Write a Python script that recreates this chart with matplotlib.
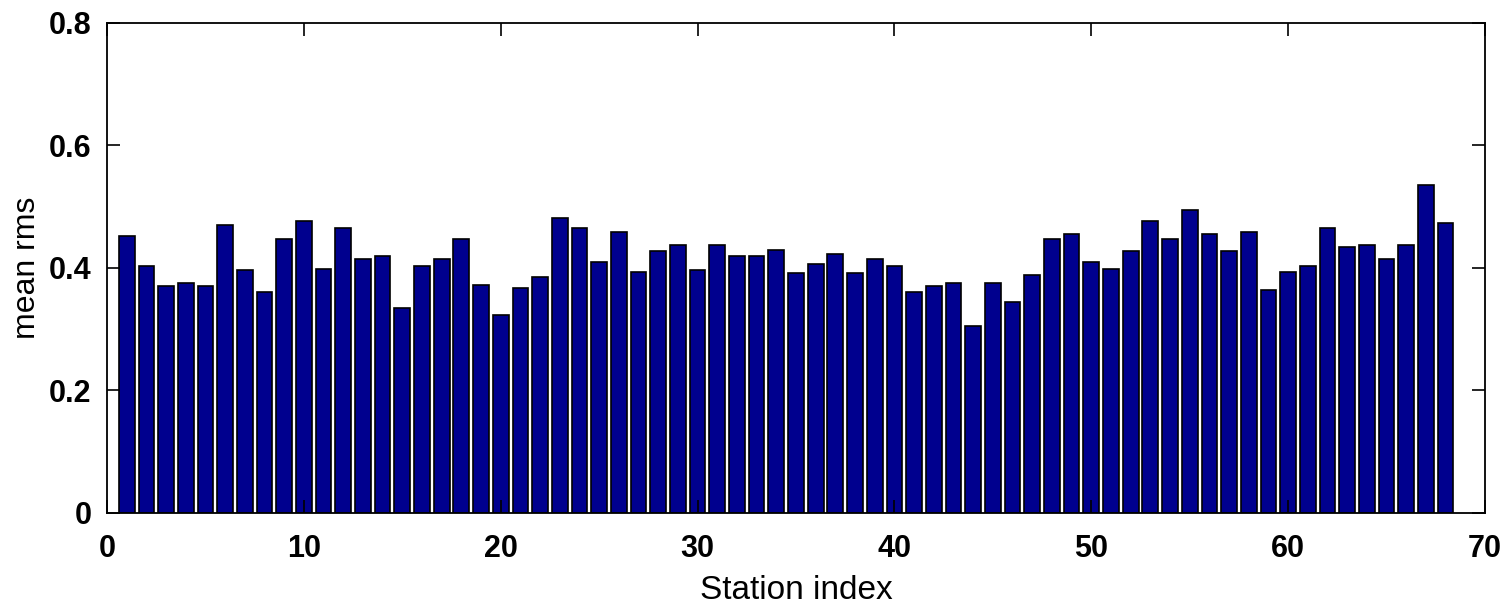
import numpy as np
import matplotlib
matplotlib.use('Agg')
import matplotlib.pyplot as plt

plt.rcParams['font.family'] = ['Liberation Sans', 'DejaVu Sans']

# mean rms per station
station_index = np.arange(1, 69)
mean_rms = [0.452, 0.403, 0.370, 0.376, 0.370, 0.470, 0.397, 0.361, 0.447, 0.476,
            0.399, 0.465, 0.414, 0.420, 0.335, 0.403, 0.414, 0.447, 0.373, 0.323,
            0.368, 0.385, 0.482, 0.465, 0.409, 0.459, 0.394, 0.427, 0.438, 0.397,
            0.438, 0.420, 0.420, 0.429, 0.391, 0.406, 0.423, 0.391, 0.414, 0.403,
            0.361, 0.370, 0.376, 0.306, 0.376, 0.344, 0.388, 0.447, 0.456, 0.409,
            0.399, 0.427, 0.476, 0.447, 0.494, 0.456, 0.427, 0.459, 0.364, 0.394,
            0.403, 0.465, 0.435, 0.438, 0.414, 0.438, 0.536, 0.474]
x_ticks = [0, 10, 20, 30, 40, 50, 60, 70]
y_ticks = [0, 0.2, 0.4, 0.6, 0.8]
y_tick_labels = ['0', '0.2', '0.4', '0.6', '0.8']

fig = plt.figure(figsize=(15.05, 6.06), dpi=100)
ax = fig.add_axes([0.0711, 0.1535, 0.9156, 0.8086])

ax.bar(station_index, mean_rms, width=0.8, color='#00008E', edgecolor='black', linewidth=1.2)

ax.set_xlim(0, 70)
ax.set_ylim(0, 0.8)
ax.set_xticks(x_ticks)
ax.set_yticks(y_ticks)
ax.set_yticklabels(y_tick_labels)
ax.tick_params(direction='in', length=9.5, width=1.2, top=True, right=True,
               labelsize=22)
ax.tick_params(axis='x', pad=15)
ax.tick_params(axis='y', pad=11)
for lbl in ax.get_xticklabels() + ax.get_yticklabels():
    lbl.set_fontweight('bold')
for sp in ax.spines.values():
    sp.set_linewidth(1.3)

ax.set_xlabel('Station index', fontsize=24, labelpad=8)
ax.set_ylabel('mean rms', fontsize=23, labelpad=5)

fig.savefig('out.png', dpi=100)
